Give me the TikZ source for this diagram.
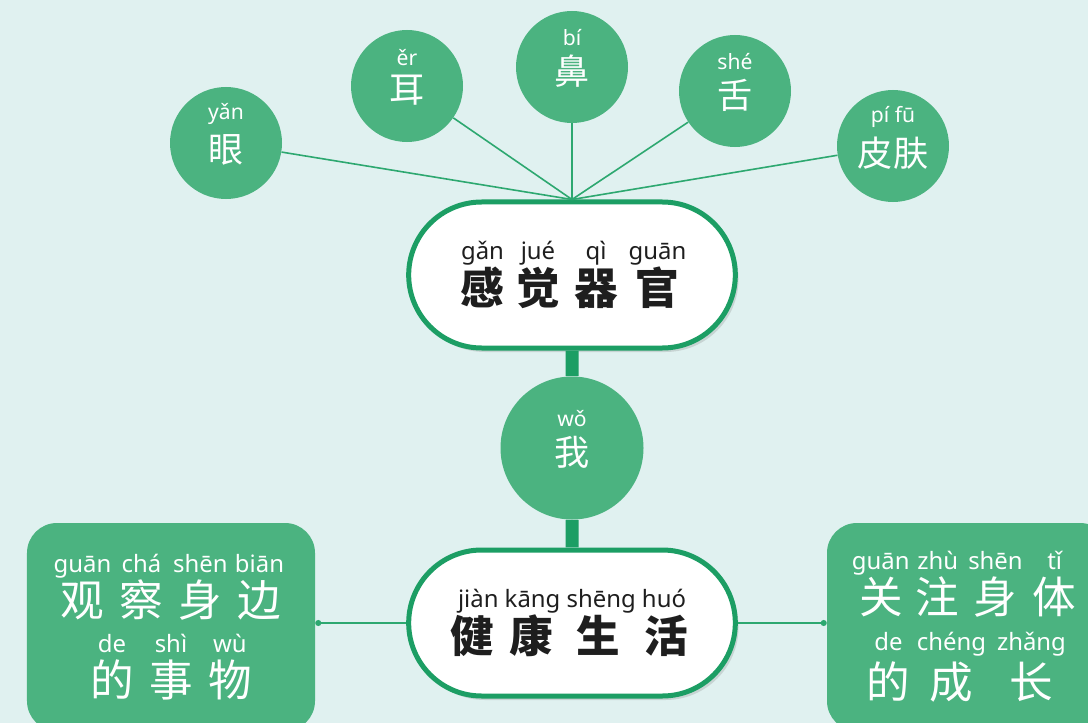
\documentclass[tikz,border=0pt]{standalone}
\usepackage{fontspec}
\usepackage{xcolor}
\usetikzlibrary{shapes.misc,shadows,arrows.meta}
\setmainfont{Noto Sans}
\newfontfamily\pinyin{Noto Sans}
\newfontfamily\hanzi{Noto Sans CJK SC}
\definecolor{leaf}{RGB}{75,179,128}
\definecolor{rim}{RGB}{28,158,100}
\definecolor{stem}{RGB}{45,168,112}
\definecolor{mist}{RGB}{224,241,240}
\definecolor{ink}{RGB}{30,30,30}

\newcommand\cell[2]{\makebox[#1][c]{#2}}
\newcommand\lift{\rule[-5mm]{0pt}{5mm}}
\newcommand\pyfont{\pinyin\fontsize{17}{28}\selectfont}
\newcommand\hzfont{\hanzi\fontsize{31}{30}\selectfont}
\newcommand\pysmall{\pinyin\fontsize{15}{20}\selectfont}
\newcommand\hzsmall{\hanzi\fontsize{25}{27}\selectfont}

\tikzset{
  sense/.style={circle, fill=leaf, text=white, minimum size=28mm, inner sep=0pt, align=center},
  pill/.style={rounded rectangle, draw=rim, line width=1.25mm, fill=white, text=ink,
    minimum width=84mm, minimum height=36.5mm, align=center,
    drop shadow={shadow xshift=0.8mm, shadow yshift=-1mm, opacity=0.25}},
  topic/.style={rectangle, rounded corners=7.5mm, fill=leaf, text=white, align=center, inner sep=0pt},
  twig/.style={draw=stem, line width=0.4mm},
  trunk/.style={draw=rim, line width=3.25mm},
}

\begin{document}
\begin{tikzpicture}[x=0.25mm, y=-0.25mm]
% background
\fill[mist] (0,0) rectangle (1088,723);
\useasboundingbox (0,0) rectangle (1088,723);

% centre column
\node[pill] (organs) at (572,275) {\pyfont\cell{13.75mm}{gǎn}\cell{14mm}{jué}\cell{15mm}{qì}\cell{15.75mm}{guān}\\
  \hzfont\bfseries\cell{13.75mm}{感}\cell{14mm}{觉}\cell{15mm}{器}\cell{15.75mm}{官}};
\node[sense, minimum size=35.75mm] (me) at (572,448) {\pysmall wǒ\\[2mm]\hzsmall 我\lift};
\node[pill] (life) at (572,623) {\pyfont jiàn kāng shēng huó\\
  \hzfont\bfseries\cell{13.5mm}{健}\cell{16.1mm}{康}\cell{17.5mm}{生}\cell{16.25mm}{活}};
\draw[trunk] (organs) -- (me);
\draw[trunk] (me) -- (life);

% sense organs
\node[sense] (eye) at (226,143) {\pysmall yǎn\\[2mm]\hzsmall 眼\lift};
\node[sense] (ear) at (407,86) {\pysmall ěr\\[2mm]\hzsmall 耳\lift};
\node[sense] (nose) at (572,67) {\pysmall bí\\[2mm]\hzsmall 鼻\lift};
\node[sense] (tongue) at (735,91) {\pysmall shé\\[2mm]\hzsmall 舌\lift};
\node[sense] (skin) at (893,146) {\pysmall pí fū\\[2mm]\hzsmall 皮肤\lift};
\draw[twig] (eye) -- (organs.north);
\draw[twig] (ear) -- (organs.north);
\draw[twig] (nose) -- (organs.north);
\draw[twig] (tongue) -- (organs.north);
\draw[twig] (skin) -- (organs.north);

% side topics
\node[topic, minimum width=72mm, minimum height=52mm] (watch) at (171,627)
  {\pyfont\cell{14.75mm}{guān}\cell{14.75mm}{chá}\cell{14.75mm}{shēn}\cell{14.75mm}{biān}\\
   \hzfont\cell{14.75mm}{观}\cell{14.75mm}{察}\cell{14.75mm}{身}\cell{14.75mm}{边}\\[3.25mm]
   \pyfont\cell{14.75mm}{de}\cell{14.75mm}{shì}\cell{14.75mm}{wù}\\[1.25mm]
   \hzfont\cell{14.75mm}{的}\cell{14.75mm}{事}\cell{14.75mm}{物}};
\node[topic, minimum width=70.75mm, minimum height=52mm] (growth) at (968.5,627)
  {\pyfont\cell{14.25mm}{guān}\cell{14.25mm}{zhù}\cell{14.6mm}{shēn}\cell{15mm}{tǐ}\\
   \hzfont\cell{14.25mm}{关}\cell{14.25mm}{注}\cell{14.6mm}{身}\cell{15mm}{体}\\[3.25mm]
   \pyfont\cell{15.75mm}{de}\cell{15.75mm}{chéng}\cell{24.25mm}{zhǎng}\\[1.25mm]
   \hzfont\cell{15.75mm}{的}\cell{15.75mm}{成}\cell{24.25mm}{长}};
\draw[twig, -{Circle[length=1.5mm]}] (life.west) -- (life.west -| watch.east);
\draw[twig, -{Circle[length=1.5mm]}] (life.east) -- (life.east -| growth.west);
\end{tikzpicture}
\end{document}
